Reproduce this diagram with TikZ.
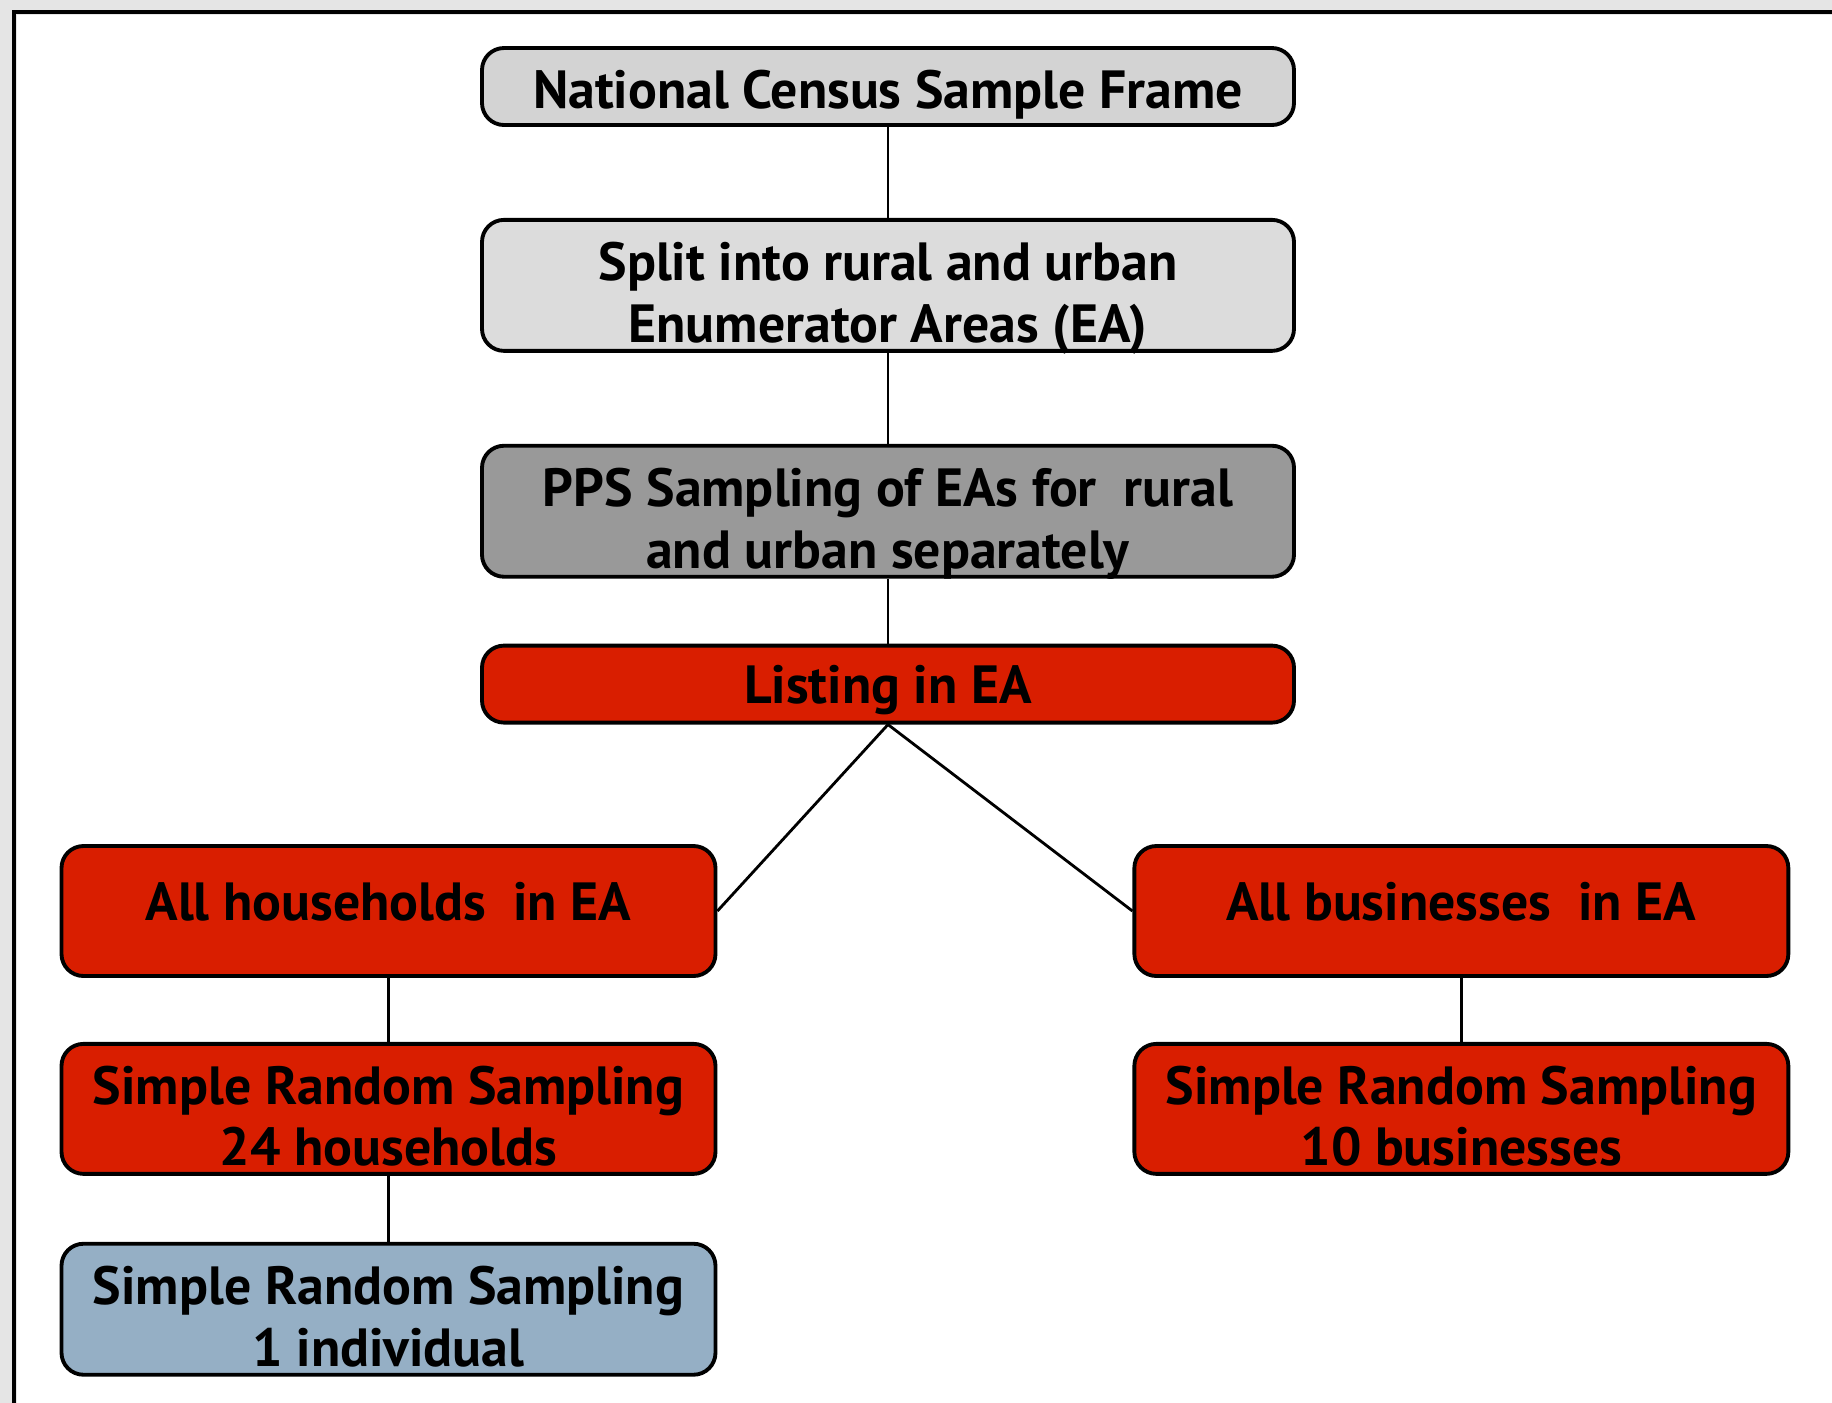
\documentclass[tikz,border=0pt]{standalone}
\usepackage{fontspec}
\setmainfont{PT Sans}
\usepackage{tikz}
\usetikzlibrary{positioning}

\definecolor{censusGray}{HTML}{D3D3D3}
\definecolor{splitGray}{HTML}{DCDCDC}
\definecolor{ppsGray}{HTML}{999999}
\definecolor{listRed}{HTML}{D91E00}
\definecolor{personBlue}{HTML}{95AFC5}

\begin{document}
\begin{tikzpicture}[
    block/.style={rectangle, rounded corners=0.22cm, draw, line width=1.1pt, align=center, inner sep=0pt, text=black,
        font=\bfseries\fontsize{15.3}{17.6}\selectfont},
    wide/.style={block, minimum width=8.12cm},
    half/.style={block, minimum width=6.54cm},
    raised/.style={text depth=0.2cm},
    lowered/.style={text height=1.19cm, text depth=0.05cm},
    link/.style={line width=0.8pt}
]
\useasboundingbox (0,0) rectangle (18.32,-14.02);
% outer frame, cut by the page on the right and at the bottom
\draw[line width=5pt, black!10] (0.08,-14.3) |- (18.6,-0.06);
\draw[line width=1.4pt] (0.14,-14.3) |- (18.6,-0.12);

\node[wide, fill=censusGray, minimum height=0.77cm, text height=0.54cm] (census) at (8.88,-0.865) {National Census Sample Frame};
\node[wide, lowered, fill=splitGray, minimum height=1.31cm, below=0.91cm of census] (split) {Split into rural and urban\\Enumerator Areas (EA)};
\node[wide, lowered, fill=ppsGray, minimum height=1.31cm, below=0.91cm of split] (pps) {PPS Sampling of EAs for\ \ rural\\and urban separately};
\node[wide, fill=listRed, minimum height=0.77cm, text height=0.5cm, below=0.65cm of pps] (listing) {Listing in EA};

\node[half, raised, fill=listRed, minimum height=1.30cm] (households) at (3.885,-9.11) {All households\ \ in EA};
\node[half, raised, fill=listRed, minimum height=1.30cm, right=4.15cm of households] (businesses) {All businesses\ \ in EA};
\node[half, lowered, fill=listRed, minimum height=1.30cm, below=0.64cm of households] (srsHouse) {Simple Random Sampling\\24 households};
\node[half, lowered, fill=listRed, minimum height=1.30cm, below=0.64cm of businesses] (srsBiz) {Simple Random Sampling\\10 businesses};
\node[half, lowered, fill=personBlue, minimum height=1.31cm, below=0.66cm of srsHouse] (srsPerson) {Simple Random Sampling\\1 individual};

\draw[link] (census) -- (split);
\draw[link] (split) -- (pps);
\draw[link] (pps) -- (listing);
\draw[link] (listing.south) -- (households.east);
\draw[link] (listing.south) -- (businesses.west);
\draw[link] (households) -- (srsHouse);
\draw[link] (srsHouse) -- (srsPerson);
\draw[link] (businesses) -- (srsBiz);
\end{tikzpicture}
\end{document}
